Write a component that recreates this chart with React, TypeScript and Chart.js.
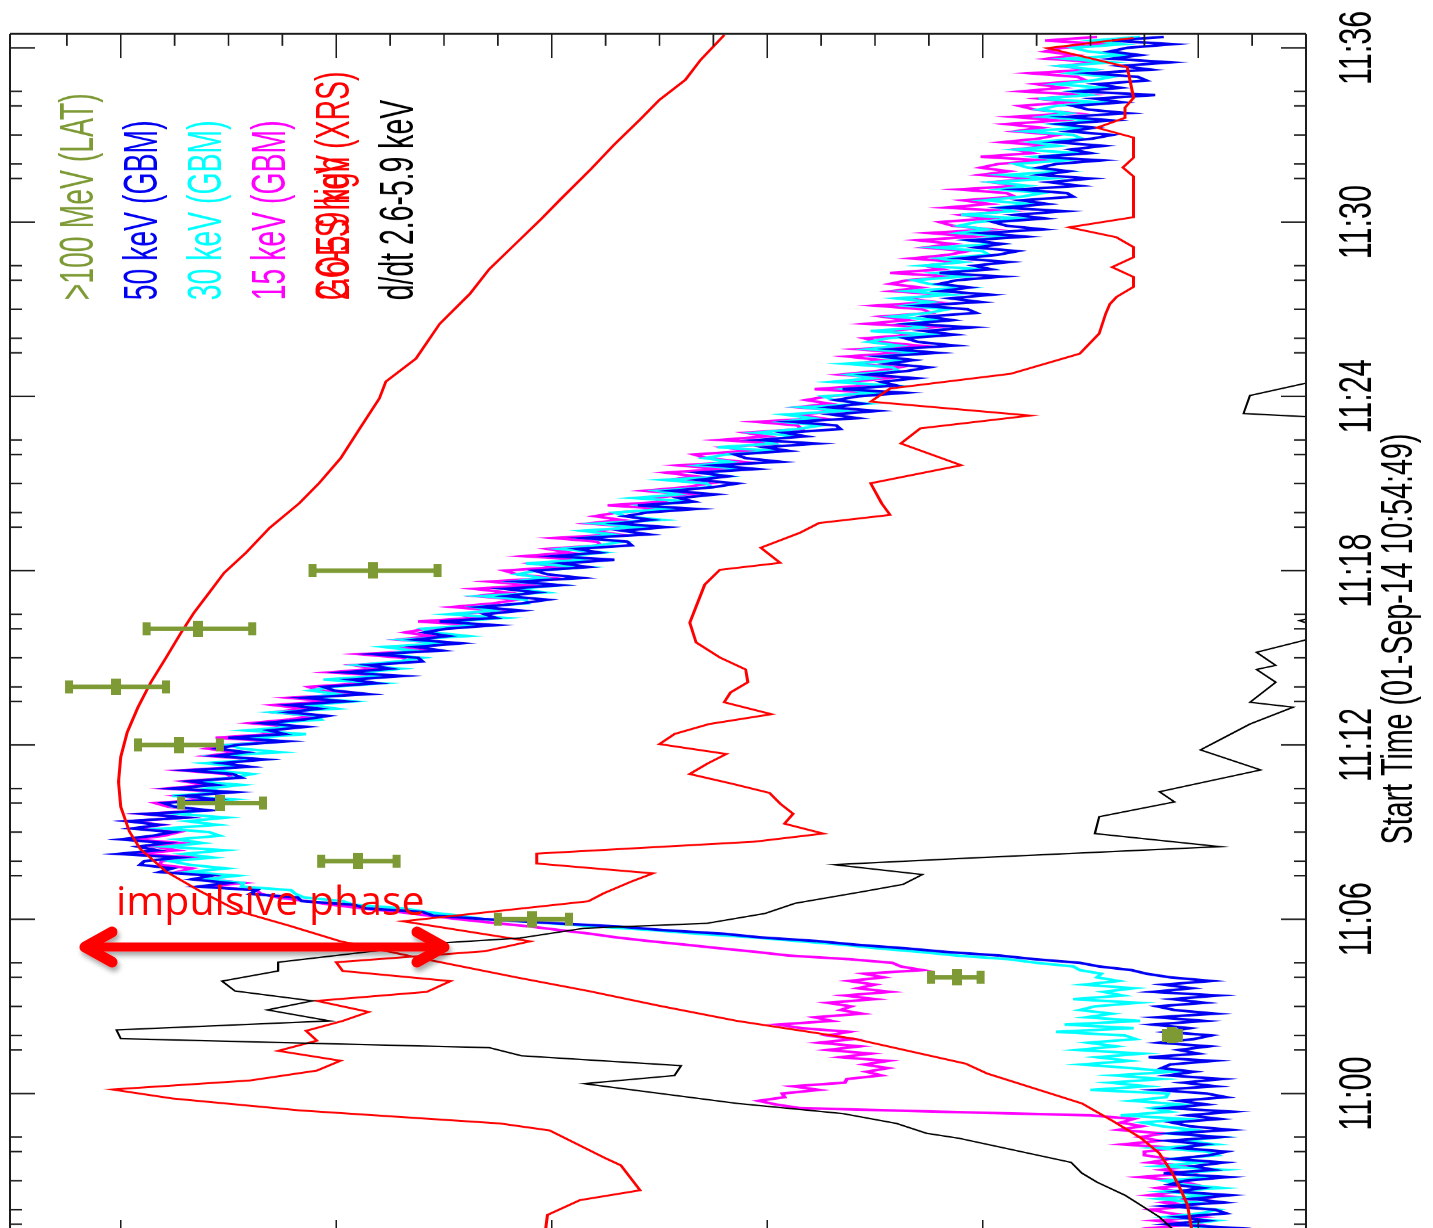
import React, { useEffect, useRef } from "react";
import { Chart, registerables } from "chart.js";

Chart.register(...registerables);

// Time base: minutes after 11:00 UT on 01-Sep-2014
const T_MIN = -5.183; // 10:54:49
const T_MAX = 36.48;

// Flux axis: log10 units with an arbitrary offset
const V_MIN = -0.5;
const V_MAX = 5.514;

// Fermi GBM rates, 7.5 s bins starting 10:55:00
const GBM_T0 = -5;
const GBM_DT = 0.125;

const gbm50 = [
  0.12, -0.1, 0.05, -0.16, 0.14, -0.04, 0.09, -0.13,
  -0.08, 0.15, -0.12, 0.03, -0.15, 0.1, -0.02, 0.13,
  0.06, -0.14, 0.16, -0.07, 0.02, -0.12, 0.11, -0.05,
  -0.13, 0.08, -0.03, 0.14, -0.1, 0.12, -0.15, 0.04,
  0.12, -0.1, 0.05, -0.16, 0.14, -0.04, 0.09, -0.13,
  -0.04, 0.19, -0.08, 0.07, -0.11, 0.14, 0.02, 0.17,
  0.13, -0.07, 0.23, 0.0, 0.09, -0.05, 0.18, 0.02,
  -0.06, 0.15, 0.04, 0.21, -0.03, 0.19, -0.08, 0.11,
  0.19, -0.03, 0.12, -0.09, 0.21, 0.03, 0.16, -0.06,
  0.13, 0.24, 0.31, 0.46, 0.55, 0.76, 0.92, 1.17,
  1.36, 1.59, 1.77, 2.03, 2.2, 2.48, 2.69, 3.02,
  3.3, 3.55, 3.6, 3.86, 3.92, 4.16, 4.18, 4.4,
  4.37, 4.64, 4.5, 4.67, 4.58, 4.82, 4.76, 4.91,
  4.89, 4.73, 5.01, 4.83, 4.92, 4.79, 5.0, 4.85,
  4.76, 4.95, 4.82, 4.97, 4.7, 4.89, 4.59, 4.75,
  4.8, 4.56, 4.7, 4.47, 4.76, 4.56, 4.68, 4.44,
  4.48, 4.69, 4.4, 4.53, 4.33, 4.56, 4.42, 4.55,
  4.46, 4.23, 4.5, 4.24, 4.31, 4.14, 4.34, 4.15,
  4.04, 4.22, 4.08, 4.22, 3.96, 4.15, 3.85, 4.01,
  4.06, 3.81, 3.93, 3.69, 3.96, 3.75, 3.85, 3.6,
  3.62, 3.82, 3.51, 3.63, 3.42, 3.63, 3.48, 3.59,
  3.49, 3.26, 3.52, 3.26, 3.31, 3.14, 3.33, 3.14,
  3.02, 3.21, 3.07, 3.22, 2.96, 3.15, 2.86, 3.02,
  3.08, 2.83, 2.95, 2.71, 2.99, 2.78, 2.88, 2.63,
  2.65, 2.85, 2.55, 2.67, 2.47, 2.69, 2.54, 2.66,
  2.56, 2.33, 2.6, 2.34, 2.41, 2.24, 2.44, 2.25,
  2.14, 2.32, 2.18, 2.32, 2.05, 2.24, 1.94, 2.1,
  2.15, 1.9, 2.01, 1.77, 2.04, 1.82, 1.92, 1.66,
  1.68, 1.88, 1.58, 1.7, 1.49, 1.71, 1.56, 1.68,
  1.58, 1.36, 1.65, 1.4, 1.47, 1.31, 1.53, 1.35,
  1.25, 1.44, 1.32, 1.47, 1.21, 1.41, 1.13, 1.3,
  1.36, 1.13, 1.27, 1.05, 1.34, 1.14, 1.26, 1.03,
  1.07, 1.29, 1.01, 1.15, 0.96, 1.19, 1.06, 1.2,
  1.12, 0.91, 1.2, 0.96, 1.04, 0.88, 1.1, 0.93,
  0.84, 1.03, 0.91, 1.06, 0.8, 1.0, 0.72, 0.89,
  0.95, 0.71, 0.85, 0.62, 0.9, 0.7, 0.82, 0.58,
  0.61, 0.83, 0.55, 0.69, 0.5, 0.73, 0.6, 0.74,
  0.66, 0.45, 0.74, 0.5, 0.59, 0.44, 0.66, 0.49,
  0.4, 0.6, 0.48, 0.64, 0.4, 0.61, 0.33, 0.51,
  0.58, 0.35, 0.48, 0.2, 0.55, 0.36, 0.47, 0.24,
  0.28, 0.5, 0.22, 0.36, 0.13, 0.4, 0.27, 0.41,
  0.33, 0.12, 0.4, 0.16,
];

const gbm30 = [
  0.1, -0.1, 0.2, -0.03, 0.06, -0.08, 0.15, -0.01,
  -0.09, 0.12, 0.01, 0.18, -0.06, 0.16, -0.11, 0.08,
  0.16, -0.06, 0.09, -0.12, 0.18, 0.0, 0.13, -0.09,
  -0.04, 0.19, -0.08, 0.07, -0.11, 0.14, 0.02, 0.17,
  0.26, 0.06, 0.36, 0.13, 0.22, 0.08, 0.31, 0.15,
  0.14, 0.5, 0.24, 0.41, 0.17, 0.39, 0.12, 0.31,
  0.54, 0.32, 0.47, 0.26, 0.56, 0.38, 0.51, 0.29,
  0.34, 0.66, 0.3, 0.62, 0.27, 0.52, 0.4, 0.55,
  0.48, 0.28, 0.58, 0.35, 0.44, 0.3, 0.53, 0.37,
  0.47, 0.45, 0.55, 0.58, 0.75, 0.88, 1.12, 1.29,
  1.49, 1.65, 1.86, 2.06, 2.32, 2.53, 2.79, 3.03,
  3.31, 3.43, 3.58, 3.69, 3.92, 3.97, 4.15, 4.19,
  4.21, 4.44, 4.43, 4.61, 4.46, 4.69, 4.51, 4.68,
  4.77, 4.57, 4.71, 4.52, 4.79, 4.62, 4.74, 4.54,
  4.59, 4.8, 4.55, 4.69, 4.51, 4.73, 4.62, 4.75,
  4.69, 4.48, 4.76, 4.52, 4.6, 4.44, 4.66, 4.48,
  4.39, 4.58, 4.45, 4.61, 4.35, 4.55, 4.26, 4.44,
  4.5, 4.25, 4.38, 4.14, 4.42, 4.21, 4.31, 4.07,
  4.09, 4.29, 4.0, 4.12, 3.92, 4.14, 3.99, 4.12,
  4.02, 3.79, 4.06, 3.8, 3.87, 3.7, 3.9, 3.71,
  3.6, 3.78, 3.64, 3.78, 3.51, 3.69, 3.39, 3.55,
  3.6, 3.35, 3.46, 3.22, 3.48, 3.27, 3.36, 3.11,
  3.12, 3.33, 3.03, 3.16, 2.96, 3.18, 3.04, 3.16,
  3.07, 2.84, 3.12, 2.86, 2.93, 2.76, 2.96, 2.78,
  2.67, 2.85, 2.72, 2.86, 2.6, 2.79, 2.49, 2.66,
  2.71, 2.46, 2.58, 2.34, 2.62, 2.41, 2.51, 2.26,
  2.28, 2.48, 2.18, 2.3, 2.1, 2.32, 2.17, 2.29,
  2.19, 1.96, 2.23, 1.97, 2.03, 1.85, 2.05, 1.86,
  1.75, 1.93, 1.79, 1.92, 1.65, 1.84, 1.54, 1.69,
  1.74, 1.51, 1.64, 1.42, 1.7, 1.51, 1.62, 1.39,
  1.42, 1.64, 1.35, 1.49, 1.29, 1.53, 1.39, 1.53,
  1.44, 1.23, 1.52, 1.28, 1.36, 1.2, 1.42, 1.25,
  1.16, 1.36, 1.24, 1.4, 1.15, 1.35, 1.07, 1.25,
  1.32, 1.09, 1.22, 1.0, 1.28, 1.09, 1.2, 0.97,
  1.0, 1.22, 0.93, 1.07, 0.88, 1.11, 0.98, 1.11,
  1.03, 0.82, 1.1, 0.86, 0.93, 0.78, 0.99, 0.82,
  0.72, 0.92, 0.79, 0.95, 0.69, 0.9, 0.61, 0.79,
  0.85, 0.62, 0.76, 0.54, 0.84, 0.65, 0.77, 0.54,
  0.58, 0.8, 0.53, 0.67, 0.48, 0.72, 0.6, 0.74,
  0.66, 0.45, 0.74, 0.5, 0.59, 0.44, 0.66, 0.49,
  0.4, 0.6, 0.48, 0.64, 0.4, 0.61, 0.33, 0.51,
  0.58, 0.35, 0.49, 0.27,
];

const gbm15 = [
  0.0, 0.16, 0.08, 0.21, 0.02, 0.2, -0.02, 0.13,
  0.22, 0.04, 0.16, -0.01, 0.23, 0.09, 0.19, 0.02,
  0.09, 0.27, 0.05, 0.17, 0.03, 0.23, 0.13, 0.25,
  0.25, 0.1, 0.35, 0.18, 0.27, 0.16, 0.37, 0.26,
  0.36, 0.3, 0.5, 1.2, 1.85, 1.96, 2.04, 1.92,
  1.93, 1.76, 1.88, 1.64, 1.63, 1.47, 1.54, 1.44,
  1.55, 1.44, 1.66, 1.52, 1.72, 1.57, 1.76, 1.6,
  1.72, 1.62, 1.84, 1.95, 1.7, 1.78, 1.56, 1.66,
  1.61, 1.72, 1.5, 1.64, 1.43, 1.58, 1.5, 1.62,
  1.46, 1.55, 1.28, 1.38, 1.42, 1.62, 1.9, 2.05,
  2.22, 2.38, 2.55, 2.7, 2.82, 2.96, 3.1, 3.27,
  3.43, 3.57, 3.71, 3.88, 4.02, 4.14, 4.27, 4.35,
  4.37, 4.6, 4.43, 4.6, 4.5, 4.74, 4.67, 4.82,
  4.81, 4.65, 4.93, 4.74, 4.84, 4.72, 4.94, 4.8,
  4.73, 4.93, 4.81, 4.96, 4.7, 4.9, 4.61, 4.78,
  4.84, 4.6, 4.74, 4.51, 4.79, 4.6, 4.71, 4.48,
  4.51, 4.72, 4.43, 4.57, 4.37, 4.6, 4.46, 4.6,
  4.51, 4.28, 4.56, 4.3, 4.37, 4.2, 4.4, 4.22,
  4.11, 4.29, 4.15, 4.29, 4.03, 4.22, 3.92, 4.08,
  4.13, 3.88, 4.0, 3.76, 4.03, 3.82, 3.92, 3.67,
  3.69, 3.89, 3.59, 3.71, 3.5, 3.71, 3.56, 3.68,
  3.58, 3.35, 3.62, 3.36, 3.43, 3.26, 3.46, 3.27,
  3.16, 3.35, 3.21, 3.36, 3.1, 3.29, 3.0, 3.16,
  3.22, 2.97, 3.09, 2.85, 3.13, 2.92, 3.02, 2.77,
  2.79, 2.99, 2.69, 2.81, 2.61, 2.83, 2.68, 2.8,
  2.7, 2.47, 2.74, 2.48, 2.54, 2.37, 2.57, 2.38,
  2.27, 2.46, 2.33, 2.47, 2.21, 2.41, 2.12, 2.28,
  2.34, 2.08, 2.2, 1.95, 2.22, 2.0, 2.1, 1.84,
  1.86, 2.05, 1.75, 1.86, 1.65, 1.86, 1.71, 1.82,
  1.72, 1.5, 1.78, 1.54, 1.61, 1.45, 1.66, 1.49,
  1.39, 1.59, 1.47, 1.63, 1.38, 1.58, 1.3, 1.48,
  1.55, 1.32, 1.46, 1.24, 1.54, 1.35, 1.47, 1.24,
  1.28, 1.5, 1.22, 1.36, 1.18, 1.42, 1.29, 1.43,
  1.35, 1.14, 1.43, 1.19, 1.27, 1.11, 1.33, 1.16,
  1.07, 1.27, 1.14, 1.3, 1.04, 1.25, 0.96, 1.14,
  1.2, 0.97, 1.1, 0.88, 1.17, 0.97, 1.09, 0.85,
  0.89, 1.11, 0.83, 0.96, 0.77, 1.01, 0.88, 1.01,
  0.93, 0.72, 1.01, 0.77, 0.85, 0.69, 0.91, 0.74,
  0.65, 0.85, 0.73, 0.89, 0.65, 0.86, 0.58, 0.76,
  0.83, 0.6, 0.74, 0.52, 0.82, 0.63, 0.75, 0.52,
  0.56, 0.78, 0.5, 0.64, 0.46, 0.7, 0.57, 0.71,
  0.63, 0.42, 0.71, 0.47,
];

// GOES XRS soft channel
const goesLowT = [
  -5.18, -4.7, -3.84, -3.33, -2.74, -2.06, -1.51, -0.93, -0.34, 0.69, 1.03, 1.89,
  2.5, 3.02, 3.53, 3.98, 4.66, 5.24, 5.76, 6.27, 6.96, 7.64, 8.43, 9.02, 9.87,
  10.73, 11.59, 12.44, 13.3, 14.16, 15.01, 15.87, 16.56, 17.24, 17.93, 18.61,
  19.47, 20.33, 21.01, 21.87, 22.9, 23.93, 24.51, 25.3, 26.5, 27.53, 28.38,
  29.24, 30.1, 30.78, 31.81, 32.67, 33.53, 34.21, 34.9, 35.58, 36.44,
];
const goesLowV = [
  0.02, 0.03, 0.05, 0.08, 0.12, 0.18, 0.27, 0.4, 0.54, 0.98, 1.08, 1.6,
  2.14, 2.5, 2.83, 3.15, 3.61, 3.98, 4.21, 4.45, 4.63, 4.79, 4.91, 4.96, 5.0,
  5.01, 5.0, 4.97, 4.92, 4.86, 4.79, 4.72, 4.66, 4.59, 4.52, 4.42,
  4.31, 4.17, 4.08, 3.98, 3.89, 3.8, 3.77, 3.63, 3.52, 3.38, 3.29,
  3.17, 3.05, 2.96, 2.82, 2.71, 2.59, 2.5, 2.38, 2.31, 2.2,
];

// GOES XRS hard channel
const goesHighT = [
  -5.18, -4.76, -4.18, -3.67, -3.33, -2.47, -2.23, -1.27, -1.03, -0.58, -0.17, 0.14,
  0.45, 0.79, 1.13, 1.47, 1.82, 2.16, 2.5, 2.81, 3.19, 3.5, 3.87, 4.22,
  4.52, 4.9, 5.24, 5.93, 6.62, 6.89, 7.3, 7.58, 7.92, 8.26, 8.67, 8.95,
  9.29, 9.63, 9.98, 10.35, 10.66, 11.0, 11.35, 11.69, 12.03, 12.38, 12.72, 13.06,
  13.47, 13.81, 14.16, 14.6, 15.01, 15.53, 16.21, 17.52, 18.03, 18.27, 18.79, 19.3,
  19.64, 19.92, 20.33, 21.01, 21.63, 22.38, 22.9, 23.34, 23.82, 24.27, 24.78, 25.47,
  26.16, 26.84, 27.18, 27.42, 27.77, 28.11, 28.45, 28.79, 29.14, 29.48, 29.82, 30.17,
  31.57, 31.88, 32.22, 32.91, 33.25, 33.59, 33.94, 34.28, 35.34, 35.99, 36.34,
];
const goesHighV = [
  3.03, 3.03, 3.02, 2.87, 2.59, 2.68, 2.75, 3.01, 3.24, 4.17, 4.76, 5.04,
  4.4, 4.09, 3.98, 4.27, 4.09, 4.14, 3.97, 3.85, 4.09, 3.58, 3.47, 3.97,
  4.0, 3.31, 3.1, 3.69, 2.83, 2.76, 2.63, 2.53, 3.07, 3.07, 2.06, 1.74,
  1.92, 1.88, 1.94, 1.99, 2.16, 2.36, 2.28, 2.19, 2.5, 2.43, 2.27, 1.98,
  2.2, 2.17, 2.09, 2.1, 2.22, 2.33, 2.36, 2.29, 2.22, 1.94, 2.03, 1.85,
  1.76, 1.43, 1.47, 1.52, 1.1, 1.38, 1.29, 0.78, 1.52, 1.43, 0.87, 0.55,
  0.46, 0.43, 0.41, 0.38, 0.3, 0.3, 0.4, 0.3, 0.3, 0.38, 0.6, 0.3,
  0.3, 0.35, 0.3, 0.3, 0.47, 0.34, 0.34, 0.3, 0.33, 0.7, 0.3,
];

// Time derivative of the 2.6-5.9 keV flux (null: negative, not shown)
const derivT = [
  -4.66, -4.25, -3.5, -3.05, -2.74, -2.37, -1.54, -1.37, -1.03, -0.69, -0.34, 0.34,
  0.62, 0.96, 1.3, 1.58, 1.89, 2.19, 2.5, 2.88, 3.19, 3.53, 3.87, 4.22,
  4.52, 4.9, 5.14, 5.35, 5.69, 5.86, 6.2, 6.55, 6.96, 7.2, 7.54, 7.88,
  8.09, 8.5, 8.95, 9.53, 10.04, 10.39, 11.14, 11.83, 12.1, 12.72, 13.3, 13.47,
  14.16, 14.6, 14.74, 15.19, 15.6, 15.94, 16.28, 16.63, 20.0, 23.28, 23.41, 24.03,
  24.44, 24.72,
];
const derivV = [
  0.12, 0.18, 0.34, 0.47, 0.54, 0.59, 1.11, 1.26, 1.4, 1.65, 2.14, 2.85,
  2.43, 2.4, 3.14, 3.29, 5.0, 5.02, 4.03, 4.32, 4.11, 4.47, 4.53, 4.27,
  4.27, 3.83, 3.61, 3.15, 2.85, 2.28, 2.01, 1.87, 1.55, 1.37, 1.28, 1.69,
  1.11, -0.1, 0.48, 0.46, 0.11, 0.18, -0.29, -0.01, -0.08, -0.24, -0.44, -0.24,
  -0.36, -0.27, -0.36, -0.27, -0.49, -0.61, -0.47, -0.66, null, -0.56, -0.21, -0.24,
  -0.49, -0.66,
];

// Fermi LAT >100 MeV flux with its 1-sigma range
const latT = [2, 4, 6, 8, 10, 12, 14, 16, 18];
const latV = [0.12, 1.12, 3.09, 3.9, 4.54, 4.73, 5.02, 4.64, 3.83];
const latLo = [0.09, 1.01, 2.92, 3.72, 4.34, 4.54, 4.79, 4.39, 3.53];
const latHi = [0.15, 1.24, 3.25, 4.07, 4.72, 4.92, 5.24, 4.88, 4.11];

const timeTicks = [0, 6, 12, 18, 24, 30, 36];
const timeTickLabels = ["11:00", "11:06", "11:12", "11:18", "11:24", "11:30", "11:36"];
const valueTicks = [0, 1, 2, 3, 4, 5];

const legendLabels = [
  [">100 MeV (LAT)"],
  ["50 keV (GBM)"],
  ["30 keV (GBM)"],
  ["15 keV (GBM)"],
  ["GOES high (XRS)", "2.6-5.9 keV"],
  ["d/dt 2.6-5.9 keV"],
];

const LAT_COLOR = "#7d9a35";
const BLUE = "#0000f2";
const CYAN = "#00ffff";
const MAGENTA = "#ff00ff";
const RED = "#ff0000";
const BLACK = "#000000";
const legendColors = [LAT_COLOR, BLUE, CYAN, MAGENTA, RED, BLACK];

const FONT = "'Liberation Sans', Arial, Helvetica, sans-serif";

// Canvas is drawn upright and turned a quarter turn on the page
const CANVAS_W = 2000;
const CANVAS_H = 1433;
const SQUEEZE = 0.65;
const SHIFT = 1300;

const LEGEND_X = 1538;
const LEGEND_Y0 = 93;
const LEGEND_DY = 64;
const LEGEND_CONDENSE = 0.91;

const pts = (t: number[], v: (number | null)[]) => t.map((x, i) => ({ x, y: v[i] }));
const gbmPts = (v: number[]) => v.map((y, i) => ({ x: GBM_T0 + GBM_DT * i, y }));

const framePlugin = {
  id: "frameTicks",
  beforeDatasetDraw(chart: any, args: any) {
    if (args.index !== 0) return;
    const { ctx, scales } = chart;
    const xs = scales.x;
    const ys = scales.y;
    ctx.save();
    ctx.strokeStyle = LAT_COLOR;
    ctx.fillStyle = LAT_COLOR;
    ctx.lineWidth = 7;
    latT.forEach((t, i) => {
      const px = xs.getPixelForValue(t);
      const lo = ys.getPixelForValue(latLo[i]);
      const hi = ys.getPixelForValue(latHi[i]);
      ctx.beginPath();
      ctx.moveTo(px, lo);
      ctx.lineTo(px, hi);
      ctx.stroke();
      ctx.fillRect(px - 10, lo - 4, 20, 8);
      ctx.fillRect(px - 10, hi - 4, 20, 8);
    });
    ctx.restore();
  },
  afterDraw(chart: any) {
    const { ctx, chartArea: a, scales } = chart;
    const xs = scales.x;
    const ys = scales.y;
    ctx.save();
    ctx.strokeStyle = "#1c1c1c";

    // time ticks on both long edges
    ctx.lineWidth = 2.4;
    const minorTimes: number[] = [];
    for (let m = -6; m <= 37; m += 1.5) minorTimes.push(m);
    for (let m = -6; m <= 37; m += 2) minorTimes.push(m);
    const drawTimeTick = (t: number, len: number) => {
      if (t <= T_MIN || t >= T_MAX) return;
      const px = xs.getPixelForValue(t);
      ctx.beginPath();
      ctx.moveTo(px, a.bottom);
      ctx.lineTo(px, a.bottom - len);
      ctx.moveTo(px, a.top);
      ctx.lineTo(px, a.top + len);
      ctx.stroke();
    };
    minorTimes.forEach((t) => {
      if (Math.abs(t / 6 - Math.round(t / 6)) > 1e-6) drawTimeTick(t, 12);
    });
    timeTicks.forEach((t) => drawTimeTick(t, 25));

    // flux ticks on both short edges
    ctx.lineWidth = 1.7;
    for (let k = -2; k <= 22; k++) {
      const v = k / 4;
      const py = ys.getPixelForValue(v);
      if (py < a.top + 4 || py > a.bottom - 4) continue;
      const major = valueTicks.includes(v);
      const len = major ? 37 : 18.5;
      ctx.beginPath();
      ctx.moveTo(a.left, py);
      ctx.lineTo(a.left + len, py);
      ctx.moveTo(a.right, py);
      ctx.lineTo(a.right - len, py);
      ctx.stroke();
    }

    // frame
    ctx.lineWidth = 2;
    ctx.beginPath();
    ctx.moveTo(a.left, a.top);
    ctx.lineTo(a.right, a.top);
    ctx.moveTo(a.left, a.bottom);
    ctx.lineTo(a.right, a.bottom);
    ctx.stroke();
    ctx.lineWidth = 3;
    ctx.beginPath();
    ctx.moveTo(a.left, a.top);
    ctx.lineTo(a.left, a.bottom);
    ctx.moveTo(a.right, a.top);
    ctx.lineTo(a.right, a.bottom);
    ctx.stroke();

    // legend
    ctx.font = `48px ${FONT}`;
    ctx.textAlign = "left";
    ctx.textBaseline = "alphabetic";
    legendLabels.forEach((texts, i) => {
      ctx.fillStyle = legendColors[i];
      texts.forEach((txt) => {
        ctx.save();
        ctx.translate(LEGEND_X, LEGEND_Y0 + LEGEND_DY * i);
        ctx.scale(LEGEND_CONDENSE, 1);
        ctx.fillText(txt, 0, 0);
        ctx.restore();
      });
    });
    ctx.restore();
  },
};

export default function App() {
  const ref = useRef<HTMLCanvasElement>(null);

  useEffect(() => {
    const canvas = ref.current;
    if (!canvas) return;
    const marker = document.createElement("canvas");
    marker.width = 25;
    marker.height = 10;
    const mctx = marker.getContext("2d");
    if (mctx) {
      mctx.fillStyle = LAT_COLOR;
      mctx.fillRect(0, 0, 25, 10);
    }

    const chart = new Chart(canvas, {
      type: "line",
      data: {
        datasets: [
          {
            label: ">100 MeV (LAT)",
            data: pts(latT, latV),
            showLine: false,
            pointStyle: marker as any,
            pointRadius: 5,
            borderColor: LAT_COLOR,
            backgroundColor: LAT_COLOR,
          },
          {
            label: "d/dt 2.6-5.9 keV",
            data: pts(derivT, derivV),
            borderColor: BLACK,
            borderWidth: 2.2,
            pointRadius: 0,
            spanGaps: false,
          },
          {
            label: "GOES high (XRS)",
            data: pts(goesHighT, goesHighV),
            borderColor: RED,
            borderWidth: 3,
            pointRadius: 0,
          },
          {
            label: "GOES low (XRS)",
            data: pts(goesLowT, goesLowV),
            borderColor: RED,
            borderWidth: 3,
            pointRadius: 0,
          },
          {
            label: "50 keV (GBM)",
            data: gbmPts(gbm50),
            borderColor: BLUE,
            borderWidth: 4,
            pointRadius: 0,
          },
          {
            label: "30 keV (GBM)",
            data: gbmPts(gbm30),
            borderColor: CYAN,
            borderWidth: 4,
            pointRadius: 0,
          },
          {
            label: "15 keV (GBM)",
            data: gbmPts(gbm15),
            borderColor: MAGENTA,
            borderWidth: 4,
            pointRadius: 0,
          },
        ],
      },
      options: {
        animation: false,
        responsive: false,
        maintainAspectRatio: false,
        devicePixelRatio: 1,
        layout: { padding: { left: 86, right: 44.6, top: 10, bottom: 0 } },
        plugins: { legend: { display: false }, tooltip: { enabled: false } },
        elements: { line: { tension: 0 } },
        scales: {
          x: {
            type: "linear",
            position: "bottom",
            min: T_MIN,
            max: T_MAX,
            afterFit: (s: any) => {
              s.height = 127;
            },
            afterBuildTicks: (s: any) => {
              s.ticks = timeTicks.map((value) => ({ value }));
            },
            grid: { display: false },
            border: { display: false },
            ticks: {
              autoSkip: false,
              maxRotation: 0,
              minRotation: 0,
              padding: 16,
              color: "#000",
              font: { family: FONT, size: 47 },
              callback: (v: any) => timeTickLabels[timeTicks.indexOf(Number(v))] ?? "",
            },
            title: {
              display: true,
              text: "Start Time (01-Sep-14 10:54:49)",
              color: "#000",
              font: { family: FONT, size: 44 },
              padding: { top: 0, bottom: 7 },
            },
          },
          y: { type: "linear", min: V_MIN, max: V_MAX, display: false },
        },
      },
      plugins: [framePlugin],
    } as any);

    return () => chart.destroy();
  }, []);

  return (
    <div
      style={{
        position: "fixed",
        left: 0,
        top: 0,
        width: 1433,
        height: 1228,
        overflow: "hidden",
        background: "#fff",
      }}
    >
      <canvas
        ref={ref}
        width={CANVAS_W}
        height={CANVAS_H}
        style={{
          position: "absolute",
          left: 0,
          top: 0,
          width: CANVAS_W,
          height: CANVAS_H,
          transformOrigin: "0 0",
          transform: `translate(0px, ${SHIFT}px) rotate(-90deg) scale(${SQUEEZE}, 1)`,
        }}
      />
      <svg
        width={1433}
        height={1228}
        style={{ position: "absolute", left: 0, top: 0, pointerEvents: "none" }}
      >
        <defs>
          <filter id="arrowShade" x="-10%" y="-80%" width="120%" height="260%">
            <feDropShadow dx="2" dy="4" stdDeviation="2.5" floodColor="#000" floodOpacity="0.35" />
          </filter>
        </defs>
        <text x={116} y={915} fontFamily="'Open Sans', sans-serif" fontSize={41} fill={RED}>
          impulsive phase
        </text>
        <g
          filter="url(#arrowShade)"
          stroke={RED}
          fill="none"
          strokeLinecap="round"
          strokeLinejoin="round"
        >
          <line x1={86} y1={947} x2={444} y2={947} strokeWidth={9} />
          <polyline points="112,932 85,947 112,962" strokeWidth={11} />
          <polyline points="417,932 444,947 417,962" strokeWidth={11} />
        </g>
      </svg>
    </div>
  );
}
